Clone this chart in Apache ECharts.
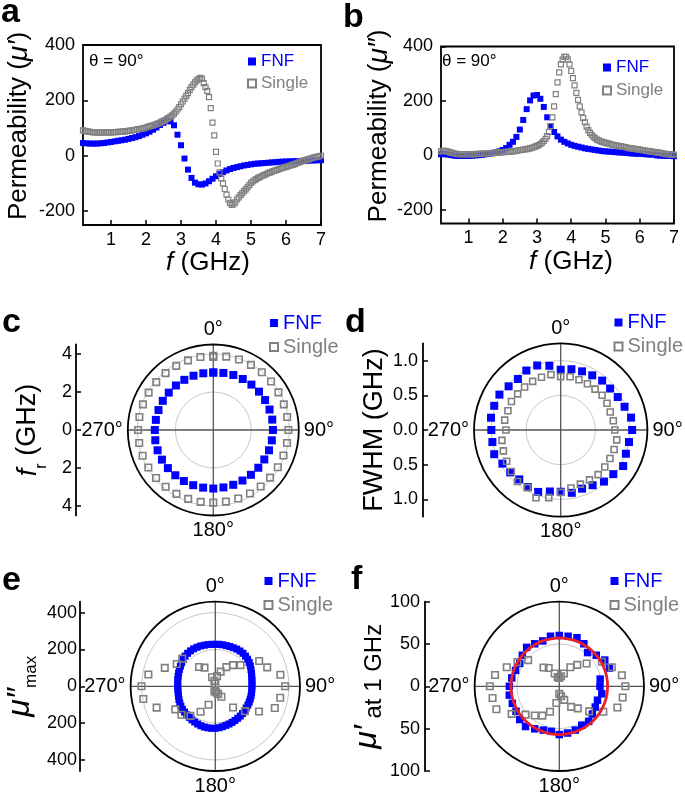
<!DOCTYPE html>
<html><head><meta charset="utf-8">
<script src="https://cdn.jsdelivr.net/npm/echarts@6/dist/echarts.min.js"></script>
<style>html,body{margin:0;padding:0;background:#fff}#c{width:685px;height:794px}</style>
</head><body><div id="c"></div>
<script>
const FONT = '"Liberation Sans", Arial, Helvetica, sans-serif';
const BLUE = '#0000ff', GREY = '#808080';

// ---------- panels a / b : frequency sweeps ----------
const freqFNF = [0.2,0.3,0.4,0.5,0.6,0.7,0.8,0.9,1.0,1.1,1.2,1.3,1.4,1.5,1.6,1.7,1.8,1.9,2.0,2.1,2.2,2.3,2.4,2.5,2.6,2.7,2.8,2.9,3.0,3.1,3.2,3.3,3.4,3.5,3.6,3.7,3.8,3.9,4.0,4.1,4.2,4.3,4.4,4.5,4.6,4.7,4.8,4.9,5.0,5.1,5.2,5.3,5.4,5.5,5.6,5.7,5.8,5.9,6.0,6.1,6.2,6.3,6.4,6.5,6.6,6.7,6.8,6.9,7.0];
const freqSingle = [0.2,0.25,0.3,0.35,0.4,0.45,0.5,0.55,0.6,0.65,0.7,0.75,0.8,0.85,0.9,0.95,1.0,1.05,1.1,1.15,1.2,1.25,1.3,1.35,1.4,1.45,1.5,1.55,1.6,1.65,1.7,1.75,1.8,1.85,1.9,1.95,2.0,2.05,2.1,2.15,2.2,2.25,2.3,2.35,2.4,2.45,2.5,2.55,2.6,2.65,2.7,2.75,2.8,2.85,2.9,2.95,3.0,3.05,3.1,3.15,3.2,3.25,3.3,3.35,3.4,3.45,3.5,3.55,3.6,3.65,3.7,3.75,3.8,3.85,3.9,3.95,4.0,4.05,4.1,4.15,4.2,4.25,4.3,4.35,4.4,4.45,4.5,4.55,4.6,4.65,4.7,4.75,4.8,4.85,4.9,4.95,5.0,5.05,5.1,5.15,5.2,5.25,5.3,5.35,5.4,5.45,5.5,5.55,5.6,5.65,5.7,5.75,5.8,5.85,5.9,5.95,6.0,6.05,6.1,6.15,6.2,6.25,6.3,6.35,6.4,6.45,6.5,6.55,6.6,6.65,6.7,6.75,6.8,6.85,6.9,6.95,7.0];

const fnfReal = [46,45,44,44,44,45,46,48,50,52,
  54,56,58,61,64,67,71,76,81,87,
  94,102,111,119,126,124,110,76,38,-10,
  -50,-80,-97,-103,-104,-100,-92,-83,-74,-66,
  -59,-53,-48,-44,-41,-38,-35,-33,-31,-29,
  -28,-27,-26,-25,-24,-23,-22,-21,-21,-20,
  -20,-19,-19,-18,-18,-17,-17,-16,-16];
const singleReal = [92,90,88,87,86,85,85,84,84,84,
  84,84,84,84,84,84,84,85,85,85,
  86,86,87,87,88,89,90,91,92,93,
  94,95,96,97,99,100,102,104,106,108,
  110,112,114,117,120,123,126,129,133,137,
  141,146,152,159,167,176,186,196,206,216,
  226,238,248,257,265,272,277,281,278,262,
  248,234,212,172,120,74,14,-28,-60,-82,
  -100,-120,-140,-158,-170,-177,-175,-168,-158,-150,
  -142,-135,-128,-121,-114,-106,-98,-93,-88,-84,
  -80,-77,-74,-71,-68,-65,-62,-60,-57,-55,
  -53,-51,-48,-46,-44,-42,-40,-38,-36,-34,
  -32,-30,-27,-25,-22,-20,-18,-16,-14,-12,
  -10,-8,-6,-5,-3,-1,0];
const fnfImag = [4,5,3,1,-1,-2,-2,-2,-2,-1,
  0,1,2,4,6,8,11,15,20,27,
  39,50,68,95,130,170,202,220,222,208,
  178,140,108,86,70,58,50,44,39,35,
  32,29,26,24,22,20,18,16,15,14,
  13,12,11,10,9,8,7,6,6,5,
  4,3,3,0,-1,-1,-2,-2,-3];
const singleImag = [15,17,17,16,14,12,10,8,7,6,
  5,5,5,5,5,5,5,5,5,5,
  5,6,6,6,6,7,7,7,8,8,
  9,9,10,10,11,11,12,12,13,13,
  14,15,15,16,17,18,19,20,21,22,
  23,25,26,28,30,32,35,38,42,47,
  53,61,71,86,108,140,180,225,268,305,
  334,352,362,362,353,334,310,284,257,230,
  204,180,158,138,121,106,93,83,75,68,
  63,58,55,52,50,48,46,44,43,41,
  40,38,37,36,34,33,32,31,30,28,
  27,26,25,24,23,22,21,20,19,18,
  17,16,15,14,13,12,11,10,9,8,
  7,6,5,5,4,3,3];
const xTicks = [1,2,3,4,5,6,7];
const yTicksAB = [-200,0,200,400];

// ---------- polar panels ----------
const angleC = [0,10,20,30,40,50,60,70,80,90,100,110,120,130,140,150,160,170,180,190,200,210,220,230,240,250,260,270,280,290,300,310,320,330,340,350,360];
const angles10 = [0,10,20,30,40,50,60,70,80,90,100,110,120,130,140,150,160,170,180,190,200,210,220,230,240,250,260,270,280,290,300,310,320,330,340,350];
const angles5 = [0,5,10,15,20,25,30,35,40,45,50,55,60,65,70,75,80,85,90,95,100,105,110,115,120,125,130,135,140,145,150,155,160,165,170,175,180,185,190,195,200,205,210,215,220,225,230,235,240,245,250,255,260,265,270,275,280,285,290,295,300,305,310,315,320,325,330,335,340,345,350,355];
const fitAngles = angles5.concat([360]);

const fnfFr = [3.02,3.05,3.08,3.10,3.12,3.14,3.15,3.15,3.15,3.14,3.13,3.12,3.10,3.09,3.08,3.07,3.07,3.07,3.08,3.08,3.09,3.10,3.11,3.12,3.12,3.12,3.10,3.08,3.07,3.07,3.07,3.06,3.06,3.05,3.04,3.03,3.03];
const singleFr = [3.90,3.92,3.95,3.96,3.97,3.97,3.96,3.95,3.95,3.95,3.94,3.93,3.92,3.90,3.88,3.86,3.84,3.83,3.82,3.84,3.86,3.88,3.90,3.93,3.95,3.96,3.96,3.96,3.95,3.94,3.93,3.92,3.91,3.90,3.90,3.90,3.84];
const fnfFwhm = [0.87,0.89,0.90,0.91,0.93,0.93,0.95,0.98,1.03,1.03,1.00,1.00,1.04,0.99,0.97,0.92,0.90,0.92,0.89,0.90,0.95,0.95,0.93,0.95,0.97,1.02,1.00,1.00,1.02,1.02,1.02,0.98,0.96,0.99,0.99,0.94];
const singleFwhm = [0.77,0.78,0.77,0.77,0.77,0.78,0.77,0.76,0.77,0.78,0.82,0.82,0.82,0.83,0.84,0.83,0.83,0.85,0.90,0.99,1.04,0.96,0.97,0.93,0.90,0.88,0.86,0.79,0.82,0.81,0.82,0.81,0.81,0.81,0.81,0.81];
const fnfMuMax = [228,229,229,229,230,231,233,234,234,232,229,225,220,214,209,205,202,200,199,199,200,201,202,203,204,205,207,209,211,212,214,216,218,220,223,226,228,229,229,229,228,226,224,222,220,219,218,218,216,213,210,207,205,204,204,205,207,209,212,215,219,224,229,232,234,235,235,234,233,231,230,229];
const singleMuMax = [15,56,85,120,150,179,275,300,359,379,358,344,274,210,150,66,45,35,20,28,107,160,210,240,251,339,397,401,369,292,242,234,137,117,52,30];
const fnfMu1 = [60,60,61,58,52,57,62,63,49,48,51,48,49,51,54,53,55,56,57,54,55,58,62,61,59,59,60,59,57,55,54,57,60,58,57,60];
const singleMu1 = [10,12,16,26,33,42,58,66,75,78,76,73,60,46,34,28,17,12,9,20,32,40,45,52,65,79,80,82,77,66,57,48,29,25,16,11];
const fitRadiusF = 57;

const ticksC = [-4,-2,0,2,4];
const ticksD = [-1,-0.5,0,0.5,1];
const ticksE = [-400,-200,0,200,400];
const ticksF = [-100,-50,0,50,100];

function pairs(xs, ys){ return xs.map((x,i)=>[x, ys[i]]); }
function ppairs(as, rs){ return as.map((a,i)=>[rs[i], a]); }

const chart = echarts.init(document.getElementById('c'), null, {renderer:'canvas', width:685, height:794});

const txt = (fs, extra) => Object.assign({fontSize:fs, fontFamily:FONT, color:'#000'}, extra||{});

function cartX(gi, padLeft){ return {
  type:'value', gridIndex:gi, min:0.2, max:7,
  axisLine:{show:false, onZero:false},
  axisTick:{show:true, inside:true, length:5, customValues:xTicks, lineStyle:{color:'#000', width:1.5}},
  axisLabel:{customValues:xTicks, fontSize:18, color:'#000', fontFamily:FONT, margin:6},
  splitLine:{show:false},
  name:'{i|f}{n| (GHz)}', nameLocation:'middle', nameGap:22,
  nameTextStyle:{padding:[0,0,0,padLeft], rich:{i:txt(26,{fontStyle:'italic'}), n:txt(26)}}
};}
function cartY(gi, prime, gap){ return {
  type:'value', gridIndex:gi, min:-250, max:400,
  axisLine:{show:false, onZero:false},
  axisTick:{show:true, inside:true, length:5, customValues:yTicksAB, lineStyle:{color:'#000', width:1.5}},
  axisLabel:{customValues:yTicksAB, fontSize:18, color:'#000', fontFamily:FONT, margin:8},
  splitLine:{show:false},
  name:'{n|Permeability (}{m|μ' + prime + '}{n|)}', nameLocation:'middle', nameRotate:90, nameGap:gap,
  nameTextStyle:{padding:[0,0,0,18], rich:{n:txt(26,{lineHeight:30}), m:txt(28,{lineHeight:30, fontStyle:'italic'})}}
};}
function fakeX(gi){ return {type:'value', gridIndex:gi, show:false, min:0, max:1}; }
function fakeY(gi, max, ticks, fmt, name, rich, gap, margin){ return {
  type:'value', gridIndex:gi, min:-max, max:max,
  axisLine:{show:true, onZero:false, lineStyle:{color:'#000', width:1.8}},
  axisTick:{show:true, inside:true, length:5, customValues:ticks, lineStyle:{color:'#000', width:1.5}},
  axisLabel:{customValues:ticks, formatter:fmt, fontSize:18, color:'#000', fontFamily:FONT, margin:margin},
  splitLine:{show:false},
  name:name, nameLocation:'middle', nameRotate:90, nameGap:gap, nameTextStyle:{rich:rich}
};}
function angleAx(pi){ return {
  polarIndex:pi, type:'value', min:0, max:360, interval:90, startAngle:90, clockwise:true,
  axisLine:{show:true, lineStyle:{color:'#000', width:1.8}},
  axisTick:{show:false},
  axisLabel:{formatter:v => v === 360 ? '' : v + '°', fontSize:20, color:'#000', fontFamily:FONT, margin:5},
  splitLine:{show:true, lineStyle:{color:'#555', width:1.3}}
};}
function radiusAx(pi, max, interval, colors){ return {
  polarIndex:pi, type:'value', min:0, max:max, interval:interval,
  axisLine:{show:false}, axisTick:{show:false}, axisLabel:{show:false},
  splitLine:{show:true, lineStyle:{color:colors, width:1}}
};}
function legend(left, top, gap, fs){ return {
  left:left, top:top, orient:'vertical', padding:0, itemWidth:8, itemHeight:8, itemGap:gap, selectedMode:false,
  textStyle:{fontSize:fs, fontFamily:FONT},
  data:[{name:'FNF', icon:'rect', textStyle:{color:BLUE}}, {name:'Single', icon:'rect', textStyle:{color:GREY}}]
};}
const fnfStyle = {color:BLUE, opacity:1};
const sglStyle = (w) => ({color:'rgba(255,255,255,0)', borderColor:GREY, borderWidth:w, opacity:1});
function cartSeries(gi, xs1, ys1, xs2, ys2){ return [
  {type:'scatter', name:'FNF', xAxisIndex:gi, yAxisIndex:gi, data:pairs(xs1, ys1), symbol:'rect', symbolSize:6, itemStyle:fnfStyle, silent:true, z:2},
  {type:'scatter', name:'Single', xAxisIndex:gi, yAxisIndex:gi, data:pairs(xs2, ys2), symbol:'rect', symbolSize:5, itemStyle:sglStyle(1.2), silent:true, z:3}
];}
function polarSeries(pi, a1, r1, s1, a2, r2, s2){ return [
  {type:'scatter', name:'FNF', coordinateSystem:'polar', polarIndex:pi, data:ppairs(a1, r1), symbol:'rect', symbolSize:s1, itemStyle:fnfStyle, silent:true, z:2},
  {type:'scatter', name:'Single', coordinateSystem:'polar', polarIndex:pi, data:ppairs(a2, r2), symbol:'rect', symbolSize:s2, itemStyle:sglStyle(1.6), silent:true, z:3}
];}

const gcol4 = ['#c8c8c8','#c8c8c8','#c8c8c8','rgba(0,0,0,0)'];
const gcol3 = ['#c8c8c8','#c8c8c8','rgba(0,0,0,0)'];

const letter = (t, x, y) => ({type:'text', x:x, y:y, style:{text:t, font:'bold 34px ' + FONT, fill:'#000', verticalAlign:'middle', textVerticalAlign:'middle'}});
const theta = (x, y) => ({type:'text', x:x, y:y, style:{text:'θ = 90°', font:'17px ' + FONT, fill:'#000', verticalAlign:'middle', textVerticalAlign:'middle'}});

const option = {
  animation:false,
  backgroundColor:'#fff',
  grid:[
    {left:83, top:45, width:238, height:180, show:true, borderColor:'#000', borderWidth:1.8, backgroundColor:'transparent'},
    {left:441, top:46.5, width:233, height:177, show:true, borderColor:'#000', borderWidth:1.8, backgroundColor:'transparent'},
    {left:76, top:344.5, width:20, height:171},
    {left:423, top:343.3, width:20, height:173.4},
    {left:80, top:601.6, width:20, height:169.4},
    {left:425, top:601.6, width:20, height:169.4}
  ],
  xAxis:[cartX(0, 12), cartX(1, 27), fakeX(2), fakeX(3), fakeX(4), fakeX(5)],
  yAxis:[
    cartY(0, '′', 49),
    cartY(1, '″', 45),
    fakeY(2, 4.5, ticksC, v => String(Math.abs(v)), '{i|f}{s|r}{n| (GHz)}',
      {i:txt(27,{fontStyle:'italic', lineHeight:44}), s:txt(16,{lineHeight:16, verticalAlign:'bottom'}), n:txt(27,{lineHeight:44})}, 26, 4),
    fakeY(3, 1.25, ticksD, v => Math.abs(v).toFixed(1), '{n|FWHM (GHz)}', {n:txt(27,{lineHeight:32})}, 32, 5),
    fakeY(4, 460, ticksE, v => String(Math.abs(v)), '{m|μ″}{s|max}',
      {m:txt(32,{fontStyle:'italic', lineHeight:39}), s:txt(17,{lineHeight:17, verticalAlign:'bottom'})}, 40, 3),
    fakeY(5, 100, ticksF, v => String(Math.abs(v)), '{m|μ′}{s| at 1 GHz}',
      {m:txt(32,{fontStyle:'italic', lineHeight:38}), s:txt(24,{lineHeight:24, verticalAlign:'bottom'})}, 39, 5)
  ],
  polar:[
    {center:[213.3, 430], radius:85.5},
    {center:[560.7, 430], radius:86.7},
    {center:[215.3, 686.3], radius:84.7},
    {center:[559.3, 686.3], radius:84.7}
  ],
  angleAxis:[angleAx(0), angleAx(1), angleAx(2), angleAx(3)],
  radiusAxis:[radiusAx(0, 4.5, 2, gcol4), radiusAx(1, 1.25, 0.5, gcol4), radiusAx(2, 460, 200, gcol4), radiusAx(3, 100, 50, gcol3)],
  legend:[legend(247, 53, 5, 17), legend(602, 59, 6, 17), legend(269, 313, 4, 20), legend(613.5, 312.5, 4, 20), legend(263.5, 571, 4, 20), legend(609.5, 571, 4, 20)],
  graphic:[
    letter('a', 1, 13), letter('b', 343, 18), letter('c', 2, 323), letter('d', 345, 323), letter('e', 2, 581), letter('f', 351, 580),
    theta(89, 61.5), theta(442, 61.5)
  ],
  series:[].concat(
    cartSeries(0, freqFNF, fnfReal, freqSingle, singleReal),
    cartSeries(1, freqFNF, fnfImag, freqSingle, singleImag),
    polarSeries(0, angleC, fnfFr, 8, angleC, singleFr, 6.5),
    polarSeries(1, angles10, fnfFwhm, 8, angles10, singleFwhm, 6),
    polarSeries(2, angles5, fnfMuMax, 7, angles10, singleMuMax, 6.5),
    polarSeries(3, angles10, fnfMu1, 7.5, angles10, singleMu1, 6.5),
    [{type:'line', name:'fit', coordinateSystem:'polar', polarIndex:3, data:fitAngles.map(a => [fitRadiusF, a]), symbol:'none', smooth:true, lineStyle:{color:'#e8202a', width:2.8}, silent:true, z:5}]
  )
};
chart.setOption(option);
</script>
</body></html>
